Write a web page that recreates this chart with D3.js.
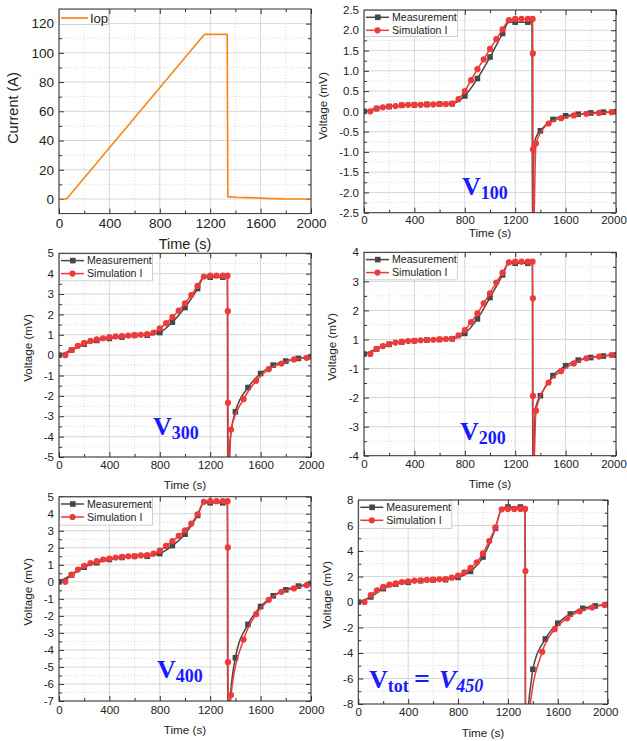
<!DOCTYPE html>
<html>
<head>
<meta charset="utf-8">
<title>Current and voltage</title>
<script src="https://cdn.jsdelivr.net/npm/d3@7"></script>
<style>
  body { margin: 0; background: #fff; }
  text { font-family: "Liberation Sans", Arial, sans-serif; fill: #222; }
  .ann { font-family: "Liberation Serif", "DejaVu Serif", serif; font-weight: bold; fill: #1a1aff; }
</style>
</head>
<body>
<div id="chart"></div>
<script>
// ---------- data ----------
const timeTicks = [0, 400, 800, 1200, 1600, 2000];

// operating current Iop (A) : [time, value]
const iop = [[0, 0], [60, 0], [1155, 112.7], [1335, 112.7], [1340, 1.6], [1400, 1.2], [1500, 0.9],
  [1600, 0.6], [1700, 0.3], [1780, 0.05], [2000, 0]];
const currentTicks = [0, 20, 40, 60, 80, 100, 120];

// V100
const v100Meas = [[0, 0], [100, 0.07], [200, 0.12], [300, 0.15], [400, 0.16], [500, 0.17], [600, 0.18],
  [700, 0.19], [800, 0.38], [900, 0.81], [1000, 1.34], [1100, 1.92], [1200, 2.2], [1300, 2.2],
  [1400, -0.48], [1500, -0.2], [1600, -0.11], [1700, -0.07], [1800, -0.04], [1900, -0.02], [2000, -0.01]];
const v100MeasLine = [[1150, 2.2], [1333, 2.2], [1337, -3.0], [1345, -1.3], [1355, -0.75], [1375, -0.58]];
const v100Sim = [[50, 0], [100, 0.07], [150, 0.1], [200, 0.12], [250, 0.13], [300, 0.15], [350, 0.16],
  [400, 0.16], [450, 0.16], [500, 0.17], [550, 0.17], [600, 0.18], [650, 0.18], [700, 0.19], [750, 0.3],
  [800, 0.5], [850, 0.77], [900, 1.04], [950, 1.28], [1000, 1.54], [1050, 1.78], [1100, 2.02], [1150, 2.25],
  [1200, 2.28], [1250, 2.28], [1300, 2.28], [1338, 2.28], [1340, 1.43], [1341, -0.94], [1365, -0.79],
  [1465, -0.3], [1565, -0.17], [1665, -0.1], [1765, -0.06], [1865, -0.04], [1965, -0.02]];
const v100SimLine = [[1343, -3.2], [2000, -0.02]];
const v100Ticks = [-2.5, -2, -1.5, -1, -0.5, 0, 0.5, 1, 1.5, 2, 2.5];

// V300
const v300Meas = [[0, 0], [100, 0.25], [200, 0.54], [300, 0.72], [400, 0.82], [500, 0.88], [600, 0.97],
  [700, 0.98], [800, 1.11], [900, 1.62], [1000, 2.34], [1100, 3.27], [1200, 3.83], [1300, 3.83],
  [1400, -2.78], [1500, -1.59], [1600, -0.9], [1700, -0.49], [1800, -0.29], [1900, -0.16], [2000, -0.08]];
const v300MeasLine = [[1150, 3.83], [1336, 3.83], [1339, -7], [1349, -5.0], [1370, -3.6]];
const v300Sim = [[50, 0], [100, 0.25], [150, 0.46], [200, 0.6], [250, 0.7], [300, 0.77], [350, 0.83],
  [400, 0.88], [450, 0.92], [500, 0.93], [550, 0.96], [600, 0.98], [650, 1.0], [700, 1.03], [750, 1.11],
  [800, 1.31], [850, 1.57], [900, 1.87], [950, 2.19], [1000, 2.54], [1050, 2.95], [1100, 3.4], [1150, 3.86],
  [1200, 3.9], [1250, 3.9], [1300, 3.9], [1338, 3.9], [1340, 2.16], [1341, -2.34], [1365, -3.65],
  [1465, -2.16], [1565, -1.26], [1665, -0.69], [1765, -0.41], [1865, -0.21], [1965, -0.13]];
const v300SimLine = [[1345, -6.5], [2000, -0.12]];
const v300Ticks = [-5, -4, -3, -2, -1, 0, 1, 2, 3, 4, 5];

// V200 (the axis of the original skips the 0 label)
const v200Meas = [[0, 0], [100, 0.2], [200, 0.38], [300, 0.47], [400, 0.52], [500, 0.55], [600, 0.57],
  [700, 0.6], [800, 0.81], [900, 1.38], [1000, 2.22], [1100, 3.11], [1200, 3.57], [1300, 3.57],
  [1400, -1.64], [1500, -0.85], [1600, -0.46], [1700, -0.24], [1800, -0.14], [1900, -0.08], [2000, -0.04]];
const v200MeasLine = [[1150, 3.57], [1336, 3.57], [1339, -5], [1348, -3.5], [1365, -2.05]];
const v200Sim = [[50, 0], [100, 0.2], [150, 0.31], [200, 0.39], [250, 0.45], [300, 0.49], [350, 0.51],
  [400, 0.52], [450, 0.54], [500, 0.55], [550, 0.56], [600, 0.58], [650, 0.59], [700, 0.6], [750, 0.73],
  [800, 0.94], [850, 1.25], [900, 1.6], [950, 1.99], [1000, 2.39], [1050, 2.81], [1100, 3.2], [1150, 3.6],
  [1200, 3.63], [1250, 3.63], [1300, 3.63], [1338, 3.63], [1340, 2.19], [1341, -1.65], [1365, -2.23],
  [1465, -1.12], [1565, -0.67], [1665, -0.37], [1765, -0.17], [1865, -0.1], [1965, -0.04]];
const v200SimLine = [[1344, -5], [2000, -0.03]];
const v200Ticks = [-4, -2.857, -1.714, -0.571, 0.571, 1.714, 2.857, 4];
const v200TickLabels = ["-4", "-3", "-2", "-1", "1", "2", "3", "4"];

// V400
const v400Meas = [[0, 0], [100, 0.4], [200, 0.86], [300, 1.12], [400, 1.31], [500, 1.43], [600, 1.5],
  [700, 1.5], [800, 1.66], [900, 2.13], [1000, 2.8], [1100, 3.9], [1200, 4.64], [1300, 4.64],
  [1400, -4.46], [1500, -2.5], [1600, -1.45], [1700, -0.82], [1800, -0.47], [1900, -0.25], [2000, -0.1]];
const v400MeasLine = [[1150, 4.64], [1336, 4.64], [1339, -9.5], [1357, -7], [1370, -5.9]];
const v400Sim = [[50, 0], [100, 0.43], [150, 0.72], [200, 0.94], [250, 1.1], [300, 1.21], [350, 1.31],
  [400, 1.37], [450, 1.43], [500, 1.47], [550, 1.5], [600, 1.5], [650, 1.55], [700, 1.57], [750, 1.66],
  [800, 1.84], [850, 2.11], [900, 2.39], [950, 2.7], [1000, 3.03], [1050, 3.42], [1100, 3.97], [1150, 4.7],
  [1200, 4.74], [1250, 4.74], [1300, 4.74], [1338, 4.74], [1340, 2.02], [1341, -4.72], [1365, -6.65],
  [1465, -3.39], [1565, -1.9], [1665, -1.06], [1765, -0.59], [1865, -0.39], [1965, -0.2]];
const v400SimLine = [[1345, -9], [2000, -0.18]];
const v400Ticks = [-7, -6, -5, -4, -3, -2, -1, 0, 1, 2, 3, 4, 5];

// Vtot = V450
const vtotMeas = [[0, 0], [100, 0.4], [200, 1.05], [300, 1.39], [400, 1.54], [500, 1.67], [600, 1.72],
  [700, 1.75], [800, 1.93], [900, 2.4], [1000, 3.53], [1100, 5.78], [1200, 7.45], [1300, 7.45],
  [1400, -5.28], [1500, -2.9], [1600, -1.67], [1700, -0.94], [1800, -0.5], [1900, -0.31], [2000, -0.2]];
const vtotMeasLine = [[1150, 7.3], [1336, 7.35], [1341, -14], [1368, -7.8], [1385, -6.4]];
const vtotSim = [[50, 0], [100, 0.55], [150, 0.92], [200, 1.18], [250, 1.36], [300, 1.46], [350, 1.57],
  [400, 1.62], [450, 1.67], [500, 1.7], [550, 1.73], [600, 1.75], [650, 1.78], [700, 1.8], [750, 1.91],
  [800, 2.07], [850, 2.33], [900, 2.67], [950, 3.11], [1000, 3.82], [1050, 4.78], [1100, 5.86], [1150, 7.27],
  [1200, 7.3], [1250, 7.3], [1300, 7.3], [1338, 7.3], [1340, 2.43], [1375, -8.4], [1475, -3.9],
  [1575, -2.13], [1675, -1.28], [1775, -0.73], [1875, -0.43], [1975, -0.24]];
const vtotSimLine = [[1343, -14], [2000, -0.22]];
const vtotTicks = [-8, -6, -4, -2, 0, 2, 4, 6, 8];

// ---------- drawing ----------
const W = 627, H = 741;
const svg = d3.select("#chart").append("svg")
  .attr("width", W).attr("height", H)
  .style("background", "#fff");

const gray = "#474747", red = "#ee3a3a", orange = "#f7861c";

// one panel : frame, grids, ticks, labels
function drawFrame(p) {
  const [x0, x1, y0, y1] = p.box;
  const x = d3.scaleLinear().domain([0, 2000]).range([x0, x1]);
  const y = d3.scaleLinear().domain(p.yDomain).range([y1, y0]);
  const g = svg.append("g");
  const xMinor = d3.pairs(timeTicks).map(([a, b]) => (a + b) / 2);
  const yMinor = d3.pairs(p.yTicks).map(([a, b]) => (a + b) / 2);

  // minor grid (dotted)
  g.append("g").selectAll("line").data(xMinor).join("line")
    .attr("x1", d => x(d)).attr("x2", d => x(d)).attr("y1", y0).attr("y2", y1);
  g.append("g").selectAll("line").data(yMinor).join("line")
    .attr("y1", d => y(d)).attr("y2", d => y(d)).attr("x1", x0).attr("x2", x1);
  g.selectAll("line").attr("stroke", "#dcdcdc").attr("stroke-dasharray", "1,2");

  // major grid
  const major = g.append("g").attr("stroke", "#d2d2d2").attr("stroke-width", 0.9);
  major.selectAll(".gx").data(timeTicks).join("line")
    .attr("x1", d => x(d)).attr("x2", d => x(d)).attr("y1", y0).attr("y2", y1);
  major.selectAll(".gy").data(p.yTicks).join("line")
    .attr("y1", d => y(d)).attr("y2", d => y(d)).attr("x1", x0).attr("x2", x1);

  const clean = a => a.select(".domain").remove();

  // axes with inward ticks on all sides
  const bottom = g.append("g").attr("transform", `translate(0,${y1})`)
    .call(d3.axisBottom(x).tickValues(timeTicks).tickSize(-5).tickSizeOuter(0)
      .tickPadding(p.xPad).tickFormat(d => String(d)))
    .call(clean).attr("font-size", p.fs).attr("color", "#333");
  // keep the last label inside the page on the right column
  if (x1 > 600) bottom.selectAll(".tick text").filter(d => d === 2000).attr("dx", -2.5);

  g.append("g").attr("transform", `translate(0,${y1})`)
    .call(d3.axisBottom(x).tickValues(xMinor).tickSize(-3).tickFormat(""))
    .call(clean).attr("color", "#333");
  g.append("g").attr("transform", `translate(0,${y0})`)
    .call(d3.axisTop(x).tickValues(timeTicks).tickSize(-5).tickFormat(""))
    .call(clean).attr("color", "#333");
  g.append("g").attr("transform", `translate(0,${y0})`)
    .call(d3.axisTop(x).tickValues(xMinor).tickSize(-3).tickFormat(""))
    .call(clean).attr("color", "#333");

  g.append("g").attr("transform", `translate(${x0},0)`)
    .call(d3.axisLeft(y).tickValues(p.yTicks).tickSize(-5).tickPadding(5).tickFormat(p.yFormat))
    .call(clean).attr("font-size", p.fs).attr("color", "#333");
  g.append("g").attr("transform", `translate(${x0},0)`)
    .call(d3.axisLeft(y).tickValues(yMinor).tickSize(-3).tickFormat(""))
    .call(clean).attr("color", "#333");
  g.append("g").attr("transform", `translate(${x1},0)`)
    .call(d3.axisRight(y).tickValues(p.yTicks).tickSize(-5).tickFormat(""))
    .call(clean).attr("color", "#333");
  g.append("g").attr("transform", `translate(${x1},0)`)
    .call(d3.axisRight(y).tickValues(yMinor).tickSize(-3).tickFormat(""))
    .call(clean).attr("color", "#333");

  // axis titles
  g.append("text").attr("x", (x0 + x1) / 2).attr("y", p.xTitleY)
    .attr("text-anchor", "middle").attr("font-size", p.titleFs).text("Time (s)");
  g.append("text").attr("transform", `translate(${p.yTitle[0]},${p.yTitle[1]}) rotate(-90)`)
    .attr("text-anchor", "middle").attr("dy", "0.35em").attr("font-size", p.titleFs).text(p.yLabel);

  // clip for the data
  svg.append("clipPath").attr("id", "clip-" + p.id)
    .append("rect").attr("x", x0).attr("y", y0).attr("width", x1 - x0).attr("height", y1 - y0);
  const data = svg.append("g").attr("clip-path", `url(#clip-${p.id})`);

  return { x, y, g, data };
}

function border(p) {
  const [x0, x1, y0, y1] = p.box;
  svg.append("rect").attr("x", x0).attr("y", y0).attr("width", x1 - x0).attr("height", y1 - y0)
    .attr("fill", "none").attr("stroke", "#333").attr("stroke-width", 1);
}

// ---------- Current panel ----------
const pCur = { id: "cur", box: [59, 311, 9, 213.6], yDomain: [-10, 130], yTicks: currentTicks,
  yFormat: d => String(d), fs: 13.5, titleFs: 14.5, xPad: 5, xTitleY: 249, yTitle: [13, 108], yLabel: "Current (A)" };
{
  const f = drawFrame(pCur);
  f.data.append("path").datum(iop)
    .attr("fill", "none").attr("stroke", orange).attr("stroke-width", 1.7)
    .attr("d", d3.line().x(d => f.x(d[0])).y(d => f.y(d[1])));
  const lg = svg.append("g");
  lg.append("rect").attr("x", 59.5).attr("y", 9.5).attr("width", 49).attr("height", 15)
    .attr("fill", "#fff").attr("stroke", "#cfcfcf");
  lg.append("line").attr("x1", 61).attr("x2", 88).attr("y1", 18).attr("y2", 18)
    .attr("stroke", orange).attr("stroke-width", 1.7);
  lg.append("text").attr("x", 90).attr("y", 18).attr("dy", "0.35em").attr("font-size", 13).text("Iop");
  border(pCur);
}

// ---------- Voltage panels ----------
const fmt1 = d => d.toFixed(1);
const fmt0 = d => String(d);

const voltPanels = [
  { id: "v100", box: [364, 616, 10, 212.7], yDomain: [-2.5, 2.5], yTicks: v100Ticks, yFormat: fmt1,
    meas: v100Meas, measLine: v100MeasLine, sim: v100Sim, simLine: v100SimLine,
    xPad: 3, xTitleY: 237, yTitle: [323, 106], legendH: 26 },
  { id: "v300", box: [59, 311, 253.3, 457], yDomain: [-5, 5], yTicks: v300Ticks, yFormat: fmt0,
    meas: v300Meas, measLine: v300MeasLine, sim: v300Sim, simLine: v300SimLine,
    xPad: 4, xTitleY: 489, yTitle: [28, 348], legendH: 27 },
  { id: "v200", box: [364, 616, 252.3, 455.7], yDomain: [-4, 4], yTicks: v200Ticks,
    yFormat: (d, i) => v200TickLabels[i],
    meas: v200Meas, measLine: v200MeasLine, sim: v200Sim, simLine: v200SimLine,
    xPad: 4, xTitleY: 488, yTitle: [332, 347], legendH: 27 },
  { id: "v400", box: [59, 311, 496.7, 701], yDomain: [-7, 5], yTicks: v400Ticks, yFormat: fmt0,
    meas: v400Meas, measLine: v400MeasLine, sim: v400Sim, simLine: v400SimLine,
    xPad: 5, xTitleY: 734, yTitle: [28, 592], legendH: 28 },
  { id: "vtot", box: [358.3, 607.7, 500, 704], yDomain: [-8, 8], yTicks: vtotTicks, yFormat: fmt0,
    meas: vtotMeas, measLine: vtotMeasLine, sim: vtotSim, simLine: vtotSimLine,
    xPad: 4, xTitleY: 737, yTitle: [327, 595], legendH: 28 }
];

voltPanels.forEach(p => {
  p.fs = 11.5; p.titleFs = 11.7; p.yLabel = "Voltage (mV)";
  const f = drawFrame(p);
  const line = d3.line().x(d => f.x(d[0])).y(d => f.y(d[1])).curve(d3.curveMonotoneX);
  const byTime = (a, b) => a[0] - b[0];

  // measurement
  f.data.append("path").datum(p.meas.concat(p.measLine).sort(byTime))
    .attr("fill", "none").attr("stroke", gray).attr("stroke-width", 1.5).attr("d", line);
  f.data.append("g").selectAll("rect").data(p.meas).join("rect")
    .attr("x", d => f.x(d[0]) - 2.8).attr("y", d => f.y(d[1]) - 2.8)
    .attr("width", 5.6).attr("height", 5.6).attr("fill", gray);

  // simulation I
  f.data.append("path").datum(p.sim.concat(p.simLine).sort(byTime))
    .attr("fill", "none").attr("stroke", red).attr("stroke-width", 1.5).attr("d", line);
  f.data.append("g").selectAll("circle").data(p.sim).join("circle")
    .attr("cx", d => f.x(d[0])).attr("cy", d => f.y(d[1])).attr("r", 3.1).attr("fill", red);

  // legend
  const [x0, , y0] = p.box;
  const lg = svg.append("g");
  lg.append("rect").attr("x", x0 + 0.5).attr("y", y0 + 0.5).attr("width", 93).attr("height", p.legendH)
    .attr("fill", "#fff").attr("stroke", "#cfcfcf");
  [["Measurement", gray, "square"], ["Simulation I", red, "circle"]].forEach(([name, c, m], i) => {
    const yy = y0 + 7.3 + i * 13;
    lg.append("line").attr("x1", x0 + 2).attr("x2", x0 + 25).attr("y1", yy).attr("y2", yy)
      .attr("stroke", c).attr("stroke-width", 1.5);
    if (m === "square") {
      lg.append("rect").attr("x", x0 + 11).attr("y", yy - 2.8).attr("width", 5.6).attr("height", 5.6).attr("fill", c);
    } else {
      lg.append("circle").attr("cx", x0 + 13.5).attr("cy", yy).attr("r", 3.1).attr("fill", c);
    }
    lg.append("text").attr("x", x0 + 28).attr("y", yy).attr("dy", "0.35em")
      .attr("font-size", 10.6).text(name);
  });
  border(p);
});

// ---------- panel names ----------
function sub(x, y, name) {
  const t = svg.append("text").attr("class", "ann").attr("x", x).attr("y", y).attr("font-size", 26);
  t.append("tspan").text("V");
  t.append("tspan").attr("font-size", 18).attr("dy", 4).text(name);
}
sub(462, 195, "100");
sub(153, 435, "300");
sub(460, 440, "200");
sub(157, 678, "400");

const tot = svg.append("text").attr("class", "ann").attr("x", 369).attr("y", 688).attr("font-size", 26);
tot.append("tspan").text("V");
tot.append("tspan").attr("font-size", 18).attr("dy", 4).text("tot");
tot.append("tspan").attr("x", 414).attr("dy", -4).attr("font-size", 28).text("=");
tot.append("tspan").attr("x", 439).attr("font-style", "italic").text("V");
tot.append("tspan").attr("font-size", 18).attr("dy", 4).attr("font-style", "italic").text("450");
</script>
</body>
</html>
